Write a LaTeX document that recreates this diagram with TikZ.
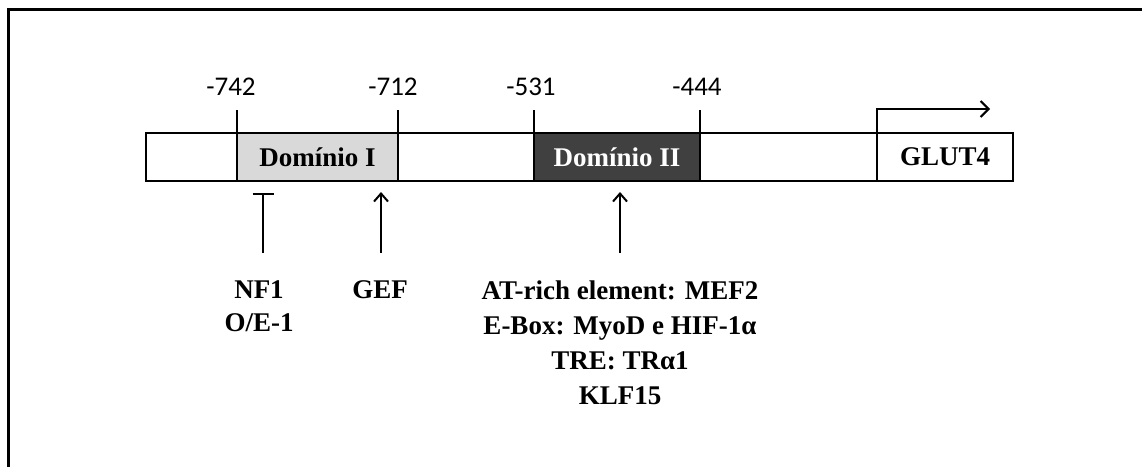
\documentclass[tikz,border=0pt]{standalone}
\usepackage{fontspec}
\setmainfont{Liberation Serif}
\newfontfamily\numfont{Carlito}
\usetikzlibrary{arrows.meta}
\definecolor{lightdom}{HTML}{D9D9D9}
\definecolor{darkdom}{HTML}{404040}
\tikzset{
  seg/.style={draw, line width=2pt, minimum height=48pt, inner sep=0pt, outer sep=0pt, anchor=north west, font=\fontsize{27}{30}\selectfont\bfseries},
  tick/.style={line width=2pt},
  num/.style={font=\numfont\fontsize{27}{30}\selectfont, anchor=base, inner sep=0pt},
  lab/.style={font=\fontsize{27}{30}\selectfont\bfseries, anchor=base, inner sep=0pt},
  upar/.style={line width=2pt, -{Straight Barb[length=8pt,width=14pt,line width=2pt]}},
  inhib/.style={line width=2pt, -{Bar[width=21pt,line width=2pt]}},
}
\begin{document}
\begin{tikzpicture}[x=1pt,y=-1pt]
\useasboundingbox[fill=white] (0,0) rectangle (1142,466);
% outer frame (cut off)
\coordinate (fbl) at (8,470);
\coordinate (ftl) at (8,9.5);
\coordinate (ftr) at (1146,9.5);
\draw[line width=3pt] (fbl) -- (ftl) -- (ftr);
% promoter bar
\node[seg, minimum width=91pt, fill=white] (s0) at (146,133) {};
\node[seg, minimum width=161pt, fill=lightdom] (dom1) at (237,133) {Domínio I};
\node[seg, minimum width=136pt, fill=white] (s2) at (398,133) {};
\node[seg, minimum width=166pt, fill=darkdom, text=white] (dom2) at (534,133) {Domínio II};
\node[seg, minimum width=177pt, fill=white] (s4) at (700,133) {};
\node[seg, minimum width=136pt, fill=white] (glut) at (877,133) {GLUT4};
% ticks and numbers
\coordinate (t1) at (237,110);
\coordinate (t2) at (398,110);
\coordinate (t3) at (534,110);
\coordinate (t4) at (700,110);
\draw[tick] (dom1.north west) -- (t1);
\draw[tick] (dom1.north east) -- (t2);
\draw[tick] (dom2.north west) -- (t3);
\draw[tick] (dom2.north east) -- (t4);
\node[num] (n742) at (231,95) {-742};
\node[num] (n712) at (393,95) {-712};
\node[num] (n531) at (531,95) {-531};
\node[num] (n444) at (697,95) {-444};
% transcription start arrow
\coordinate (tsscorner) at (877,109);
\coordinate (tssend) at (990,109);
\draw[line width=2pt, -{Straight Barb[length=8pt,width=16pt,line width=2pt]}] (glut.north west) -- (tsscorner) -- (tssend);
% regulators
\node[lab] (nf1) at (259,298) {NF1};
\node[lab] (oe1) at (259,331) {O/E-1};
\node[lab] (gef) at (380,298) {GEF};
\node[lab] (mef) at (620,299) {AT-rich element: MEF2};
\node[lab] (ebox) at (620,334) {E-Box: MyoD e HIF-1α};
\node[lab] (tre) at (620,369) {TRE: TRα1};
\node[lab] (klf) at (620,404) {KLF15};
\coordinate (nf1b) at (263,253);
\coordinate (nf1t) at (263,193);
\coordinate (gefb) at (381,253);
\coordinate (geft) at (381,192);
\coordinate (d2b) at (620,253);
\coordinate (d2t) at (620,192);
\draw[inhib] (nf1b) -- (nf1t);
\draw[upar] (gefb) -- (geft);
\draw[upar] (d2b) -- (d2t);
\end{tikzpicture}
\end{document}
